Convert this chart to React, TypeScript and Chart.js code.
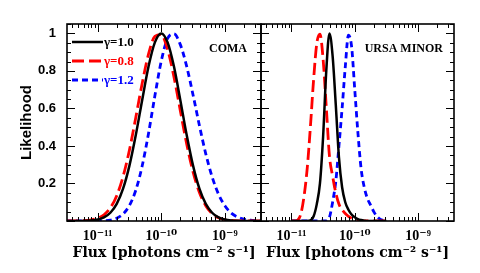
import React, { useEffect, useRef } from 'react';
import { Chart, registerables } from 'chart.js';

Chart.register(...registerables);

// ---------- data ----------
const panelNames = ['COMA', 'URSA MINOR'];
const seriesLabels = ['\u03B3=1.0', '\u03B3=0.8', '\u03B3=1.2'];

const xTickValues = [1e-11, 1e-10, 1e-9];
const xTickLabels = ['10\u207B\u00B9\u00B9', '10\u207B\u00B9\u2070', '10\u207B\u2079'];
const yTickValues = [0.2, 0.4, 0.6, 0.8, 1.0];
const yTickLabels = ['0.2', '0.4', '0.6', '0.8', '1'];

// log10 of flux, Coma panel
const comaLogFlux = [
  -11.5, -11.4, -11.3, -11.2, -11.1, -11.0, -10.9, -10.8, -10.7, -10.6, -10.5,
  -10.4, -10.3, -10.2, -10.1, -10.0, -9.9, -9.8, -9.7, -9.6, -9.5, -9.4, -9.3,
  -9.2, -9.1, -9.0, -8.9, -8.8, -8.7, -8.6, -8.5, -8.4,
];
const comaGamma10 = [
  0, 0, 0, 0.001, 0.003, 0.008, 0.019, 0.044, 0.091, 0.172, 0.295, 0.458, 0.644,
  0.823, 0.952, 1.0, 0.952, 0.823, 0.644, 0.458, 0.295, 0.172, 0.091, 0.044,
  0.019, 0.008, 0.003, 0.001, 0, 0, 0, 0,
];
const comaGamma08 = [
  0, 0, 0.001, 0.002, 0.006, 0.015, 0.033, 0.07, 0.135, 0.237, 0.378, 0.552,
  0.733, 0.889, 0.984, 0.993, 0.914, 0.768, 0.588, 0.411, 0.262, 0.152, 0.081,
  0.039, 0.017, 0.007, 0.003, 0.001, 0, 0, 0, 0,
];
const comaGamma12 = [
  0, 0, 0, 0, 0, 0.001, 0.002, 0.005, 0.015, 0.037, 0.083, 0.164, 0.293, 0.467,
  0.667, 0.852, 0.973, 0.997, 0.94, 0.824, 0.672, 0.509, 0.358, 0.235, 0.143,
  0.081, 0.042, 0.021, 0.01, 0.004, 0.002, 0.001,
];

// log10 of flux, Ursa Minor panel
const umiLogFlux = [
  -11.0, -10.95, -10.9, -10.85, -10.8, -10.75, -10.7, -10.65, -10.6, -10.55,
  -10.5, -10.45, -10.4, -10.35, -10.3, -10.25, -10.2, -10.15, -10.1, -10.05,
  -10.0, -9.95, -9.9, -9.85, -9.8, -9.75, -9.7, -9.65, -9.6, -9.55, -9.5,
];
const umiGamma10 = [
  0, 0, 0, 0, 0, 0, 0.003, 0.025, 0.09, 0.2, 0.45, 0.8, 1.0, 0.88, 0.62, 0.34,
  0.18, 0.1, 0.06, 0.035, 0.02, 0.01, 0.005, 0.002, 0, 0, 0, 0, 0, 0, 0,
];
const umiGamma08 = [
  0, 0, 0.005, 0.04, 0.135, 0.285, 0.506, 0.755, 0.946, 0.996, 0.862, 0.607,
  0.347, 0.24, 0.15, 0.09, 0.06, 0.04, 0.025, 0.015, 0.008, 0.004, 0, 0, 0, 0,
  0, 0, 0, 0, 0,
];
const umiGamma12 = [
  0, 0, 0, 0, 0, 0, 0, 0, 0, 0, 0, 0, 0.02, 0.1, 0.21, 0.4, 0.6, 0.82, 0.99,
  0.93, 0.7, 0.47, 0.28, 0.18, 0.12, 0.085, 0.05, 0.025, 0.01, 0.003, 0,
];

const xMin = 3.3e-12;
const xMax = 3.7e-9;
const yMin = 0;
const yMax = 1.05;

// ---------- styles ----------
const seriesColors = ['#000000', '#ff0000', '#0000ff'];
const seriesDashes: number[][] = [[], [12, 5], [6, 4]];
const seriesWidths = [2.5, 2.8, 2.8];

const serifBold = { family: '"Liberation Serif", "DejaVu Serif", serif', weight: 'bold' as const };
const dejaSerifBold = { family: '"DejaVu Serif", serif', weight: 'bold' as const };
const sansBold = { family: '"Liberation Sans", "DejaVu Sans", sans-serif', weight: 'bold' as const };

const framePlugin = {
  id: 'frameTicks',
  afterDatasetsDraw(chart: any) {
    const { ctx, chartArea: a, scales } = chart;
    const x = scales.x;
    const y = scales.y;
    ctx.save();
    ctx.strokeStyle = '#000';
    ctx.lineWidth = 1;
    ctx.beginPath();
    for (let e = -13; e <= -8; e++) {
      for (let m = 1; m <= 9; m++) {
        const v = m * Math.pow(10, e);
        if (v < x.min || v > x.max) continue;
        const px = Math.round(x.getPixelForValue(v)) + 0.5;
        const len = m === 1 ? 8 : 4;
        ctx.moveTo(px, a.bottom);
        ctx.lineTo(px, a.bottom - len);
        ctx.moveTo(px, a.top);
        ctx.lineTo(px, a.top + len);
      }
    }
    for (let i = 0; i <= 21; i++) {
      const v = i * 0.05;
      if (v > y.max) continue;
      const py = Math.round(y.getPixelForValue(v)) + 0.5;
      const len = i % 4 === 0 ? 8 : 4;
      ctx.moveTo(a.left, py);
      ctx.lineTo(a.left + len, py);
      ctx.moveTo(a.right, py);
      ctx.lineTo(a.right - len, py);
    }
    ctx.stroke();
    ctx.lineWidth = 1.6;
    ctx.strokeRect(a.left, a.top, a.right - a.left, a.bottom - a.top);
    ctx.restore();
  },
};

function makeLabelPlugin(panelIndex: number) {
  return {
    id: 'panelLabels' + panelIndex,
    afterDatasetsDraw(chart: any) {
      const { ctx, chartArea: a } = chart;
      ctx.save();
      ctx.fillStyle = '#000';
      ctx.textBaseline = 'middle';
      ctx.textAlign = 'right';
      ctx.font = 'bold 12px "Liberation Serif", "DejaVu Serif", serif';
      ctx.fillText(panelNames[panelIndex], a.right - (panelIndex === 0 ? 14 : 11), a.top + 25);
      if (panelIndex === 0) {
        ctx.textAlign = 'left';
        ctx.font = 'bold 13px "Liberation Serif", "DejaVu Serif", serif';
        chart.data.datasets.forEach((ds: any, i: number) => {
          const ly = a.top + 18 + i * 19;
          ctx.strokeStyle = ds.borderColor;
          ctx.lineWidth = ds.borderWidth;
          ctx.setLineDash(ds.borderDash || []);
          ctx.beginPath();
          ctx.moveTo(a.left + 5, ly);
          ctx.lineTo(a.left + 36, ly);
          ctx.stroke();
          ctx.setLineDash([]);
          ctx.fillStyle = ds.borderColor;
          ctx.fillText(ds.label, a.left + 37, ly + 1);
        });
      }
      ctx.restore();
    },
  };
}

function buildConfig(panelIndex: number): any {
  const isLeft = panelIndex === 0;
  const logs = isLeft ? comaLogFlux : umiLogFlux;
  const sets = isLeft
    ? [comaGamma10, comaGamma08, comaGamma12]
    : [umiGamma10, umiGamma08, umiGamma12];
  const datasets = seriesLabels.map((label, i) => ({
    label,
    data: logs.map((L, j) => ({ x: Math.pow(10, L), y: sets[i][j] })),
    borderColor: seriesColors[i],
    backgroundColor: seriesColors[i],
    borderDash: seriesDashes[i],
    borderWidth: seriesWidths[i],
    pointRadius: 0,
    fill: false,
    cubicInterpolationMode: 'monotone',
  }));
  return {
    type: 'line',
    data: { datasets },
    options: {
      responsive: false,
      animation: false,
      devicePixelRatio: 1,
      layout: {
        padding: isLeft
          ? { left: 0, right: 9, top: 24, bottom: 0 }
          : { left: 6, right: 26, top: 24, bottom: 0 },
      },
      plugins: { legend: { display: false }, tooltip: { enabled: false } },
      scales: {
        x: {
          type: 'logarithmic',
          min: xMin,
          max: xMax,
          afterBuildTicks: (s: any) => {
            s.ticks = xTickValues.map((v) => ({ value: v }));
          },
          afterFit: (s: any) => {
            s.height = 52;
          },
          grid: { display: false, drawTicks: false },
          border: { display: false },
          ticks: {
            callback: (_v: any, i: number) => xTickLabels[i],
            color: '#000',
            padding: 7,
            maxRotation: 0,
            autoSkip: false,
            font: { ...serifBold, size: 14 },
          },
          title: {
            display: true,
            text: 'Flux [photons cm\u207B\u00B2 s\u207B\u00B9]',
            color: '#000',
            font: { ...dejaSerifBold, size: 14 },
            padding: { top: 0, bottom: 11 },
          },
        },
        y: {
          type: 'linear',
          display: isLeft,
          min: yMin,
          max: yMax,
          afterBuildTicks: (s: any) => {
            s.ticks = yTickValues.map((v) => ({ value: v }));
          },
          afterFit: (s: any) => {
            s.width = isLeft ? 67 : 0;
          },
          grid: { display: false, drawTicks: false },
          border: { display: false },
          ticks: {
            callback: (_v: any, i: number) => yTickLabels[i],
            color: '#000',
            padding: 11,
            font: { ...sansBold, size: 13 },
          },
          title: {
            display: isLeft,
            text: 'Likelihood',
            color: '#000',
            font: { ...sansBold, size: 15 },
            padding: { top: 18, bottom: 0 },
          },
        },
      },
    },
    plugins: [framePlugin, makeLabelPlugin(panelIndex)],
  };
}

export default function App() {
  const leftRef = useRef<HTMLCanvasElement>(null);
  const rightRef = useRef<HTMLCanvasElement>(null);
  useEffect(() => {
    const c1 = new Chart(leftRef.current as HTMLCanvasElement, buildConfig(0));
    const c2 = new Chart(rightRef.current as HTMLCanvasElement, buildConfig(1));
    return () => {
      c1.destroy();
      c2.destroy();
    };
  }, []);
  return (
    <div style={{ position: 'absolute', left: 0, top: 0, width: 480, height: 273, background: '#fff' }}>
      <canvas ref={leftRef} width={270} height={273} style={{ position: 'absolute', left: 0, top: 0 }} />
      <canvas ref={rightRef} width={225} height={273} style={{ position: 'absolute', left: 255, top: 0 }} />
    </div>
  );
}
